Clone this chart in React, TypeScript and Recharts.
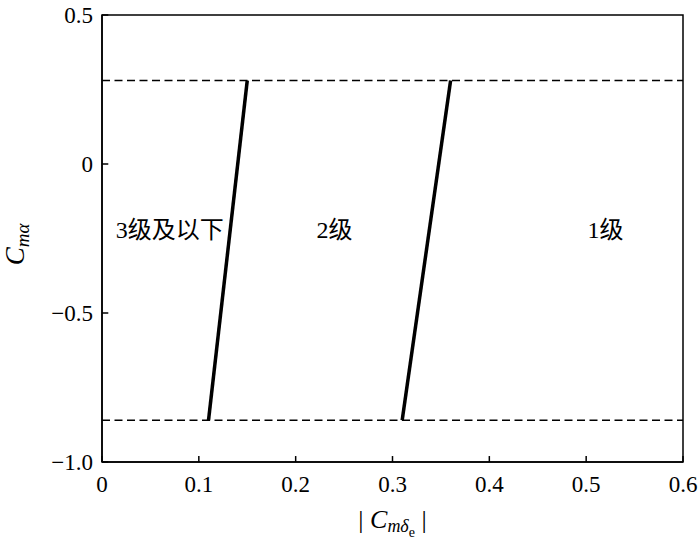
import {
  LineChart, Line, XAxis, YAxis, ReferenceLine, ReferenceDot, ReferenceArea, Label,
} from 'recharts';

// boundary levels (dashed)
const upperLimit = 0.28;
const lowerLimit = -0.86;

// level boundaries (solid)
const boundary23 = [
  { x: 0.11, y: -0.86 },
  { x: 0.15, y: 0.28 },
];
const boundary12 = [
  { x: 0.31, y: -0.86 },
  { x: 0.36, y: 0.28 },
];

const xDomain = [0, 0.6];
const yDomain = [-1, 0.5];
const xTicks = [0, 0.1, 0.2, 0.3, 0.4, 0.5, 0.6];
const yTicks = [-1, -0.5, 0, 0.5];

const regionLabels = [
  { x: 0.07, y: -0.22, text: '3级及以下' },
  { x: 0.24, y: -0.22, text: '2级' },
  { x: 0.52, y: -0.22, text: '1级' },
];

// inward tick mark length, in data units (~6px)
const TICK_DY = 0.02;
const TICK_DX = 0.0065;

const SERIF = 'Liberation Serif';
const CJK = 'Liberation Serif, Noto Sans CJK SC';

function fmt(v: number) {
  if (v === 0) return '0';
  return v.toFixed(1).replace('-', '\u2212');
}

function XTick({ x, y, payload }: any) {
  return (
    <text x={x} y={y + 30} textAnchor="middle" style={{ fontFamily: SERIF }} fontSize={23} fill="#000">
      {fmt(payload.value)}
    </text>
  );
}

function YTick({ x, y, payload }: any) {
  return (
    <text x={x - 9} y={y + 8} textAnchor="end" style={{ fontFamily: SERIF }} fontSize={23} fill="#000">
      {fmt(payload.value)}
    </text>
  );
}

export default function App() {
  return (
    <div style={{ position: 'absolute', left: 0, top: 0, background: '#fff' }}>
      <LineChart width={700} height={552} margin={{ top: 15, right: 17, left: 0, bottom: 0 }} style={{ fontFamily: SERIF }}>
        <XAxis
          type="number"
          dataKey="x"
          domain={xDomain}
          ticks={xTicks}
          tick={<XTick />}
          tickLine={false}
          tickSize={0}
          tickMargin={0}
          stroke="#000"
          strokeWidth={1.5}
          height={90}
          allowDataOverflow
        >
          <Label
            content={({ viewBox }: any) => {
              const cx = viewBox.x + viewBox.width / 2;
              const cy = viewBox.y + 66;
              return (
                <text x={cx} y={cy} textAnchor="middle" style={{ fontFamily: SERIF }} fontSize={26} fill="#000">
                  <tspan>| </tspan>
                  <tspan fontStyle="italic">C</tspan>
                  <tspan fontStyle="italic" fontSize={18} dy={4}>mδ</tspan>
                  <tspan fontSize={14} dy={5}>e</tspan>
                  <tspan dy={-9}> |</tspan>
                </text>
              );
            }}
          />
        </XAxis>
        <YAxis
          type="number"
          domain={yDomain}
          ticks={yTicks}
          tick={<YTick />}
          tickLine={false}
          tickSize={0}
          tickMargin={0}
          stroke="#000"
          strokeWidth={1.5}
          width={102}
          allowDataOverflow
        >
          <Label
            content={({ viewBox }: any) => {
              const cx = 24;
              const cy = viewBox.y + viewBox.height / 2 + 6;
              return (
                <text x={cx} y={cy} transform={`rotate(-90, ${cx}, ${cy})`} textAnchor="middle" style={{ fontFamily: SERIF }} fontSize={27} fill="#000">
                  <tspan fontStyle="italic">C</tspan>
                  <tspan fontStyle="italic" fontSize={19} dy={5}>mα</tspan>
                </text>
              );
            }}
          />
        </YAxis>

        {/* plot frame */}
        <ReferenceArea x1={xDomain[0]} x2={xDomain[1]} y1={yDomain[0]} y2={yDomain[1]} fill="none" fillOpacity={0} stroke="#000" strokeWidth={1.5} />

        {/* inward tick marks */}
        {xTicks.map((v) => (
          <ReferenceLine key={`xt${v}`} segment={[{ x: v, y: yDomain[0] }, { x: v, y: yDomain[0] + TICK_DY }]} stroke="#000" strokeWidth={1.5} />
        ))}
        {yTicks.map((v) => (
          <ReferenceLine key={`yt${v}`} segment={[{ x: xDomain[0], y: v }, { x: xDomain[0] + TICK_DX, y: v }]} stroke="#000" strokeWidth={1.5} />
        ))}

        <ReferenceLine y={upperLimit} stroke="#000" strokeWidth={1.5} strokeDasharray="8 4.5" />
        <ReferenceLine y={lowerLimit} stroke="#000" strokeWidth={1.5} strokeDasharray="8 4.5" />

        <Line data={boundary23} dataKey="y" type="linear" stroke="#000" strokeWidth={3.5} dot={false} isAnimationActive={false} />
        <Line data={boundary12} dataKey="y" type="linear" stroke="#000" strokeWidth={3.5} dot={false} isAnimationActive={false} />

        {regionLabels.map((r) => (
          <ReferenceDot
            key={r.text}
            x={r.x}
            y={r.y}
            r={0}
            fill="none"
            stroke="none"
            label={{ value: r.text, position: 'center', fill: '#000', fontSize: 24, fontFamily: CJK }}
          />
        ))}
      </LineChart>
    </div>
  );
}
